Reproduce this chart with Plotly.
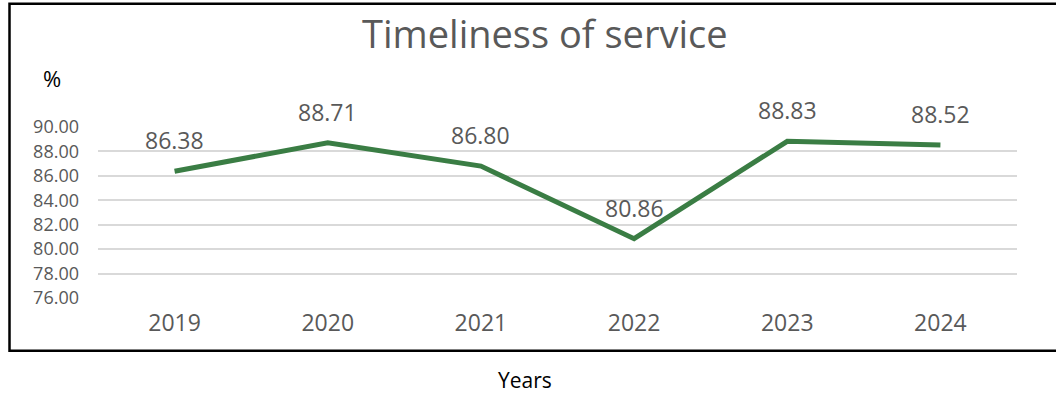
import plotly.graph_objects as go

years = ["2019", "2020", "2021", "2022", "2023", "2024"]
timeliness = [86.38, 88.71, 86.80, 80.86, 88.83, 88.52]
y_ticks = [76, 78, 80, 82, 84, 86, 88, 90]

FONT = "Open Sans"
GREY = "#595959"
GREEN = "#3A7D44"

W, H = 1056, 394
L, R, T, B = 98, 1017, 126.7, 297.7

def px(x):
    return (x - L) / (R - L)

def py(y):
    return (B - y) / (B - T)

fig = go.Figure()
fig.add_trace(go.Scatter(
    x=years, y=timeliness, mode="lines",
    line=dict(color=GREEN, width=5),
    hoverinfo="skip", showlegend=False,
))

# data labels (category index used for x so "2019" is not read as an index)
for i, v in enumerate(timeliness):
    fig.add_annotation(x=i, y=v, xref="x", yref="y", text=f"{v:.2f}", showarrow=False,
                       xanchor="center", yanchor="middle",
                       yshift=31, font=dict(family=FONT, size=23, color=GREY))

fig.add_annotation(xref="paper", yref="paper", x=px(545), y=py(33),
                   xanchor="center", yanchor="middle",
                   text="Timeliness of service", showarrow=False,
                   font=dict(family=FONT, size=38, color=GREY))
fig.add_annotation(xref="paper", yref="paper", x=px(52), y=py(78),
                   xanchor="center", yanchor="middle",
                   text="%", showarrow=False,
                   font=dict(family=FONT, size=22, color="#000000"))
fig.add_annotation(xref="paper", yref="paper", x=px(525), y=py(380),
                   xanchor="center", yanchor="middle",
                   text="Years", showarrow=False,
                   font=dict(family=FONT, size=21, color="#000000"))

fig.add_shape(type="rect", xref="paper", yref="paper",
              x0=px(9.5), x1=px(1060), y0=py(350.5), y1=py(3.5),
              line=dict(color="#000000", width=2.5), layer="below")

fig.update_layout(
    width=W, height=H,
    margin=dict(l=L, r=W - R, t=T, b=H - B),
    paper_bgcolor="white", plot_bgcolor="white",
    font=dict(family=FONT, color=GREY),
)
fig.update_xaxes(type="category", categoryorder="array", categoryarray=years,
                 range=[-0.5, len(years) - 0.5],
                 showgrid=False, showline=False, zeroline=False,
                 tickfont=dict(family=FONT, size=23, color=GREY),
                 ticks="", ticklabelstandoff=9)
fig.update_yaxes(range=[76, 90], tickvals=y_ticks, tickformat=".2f",
                 showgrid=True, gridcolor="#D9D9D9", gridwidth=1.5,
                 zeroline=False, showline=False, ticks="",
                 tickfont=dict(family=FONT, size=18, color=GREY),
                 ticklabelstandoff=18)

fig.write_html("out.html")
